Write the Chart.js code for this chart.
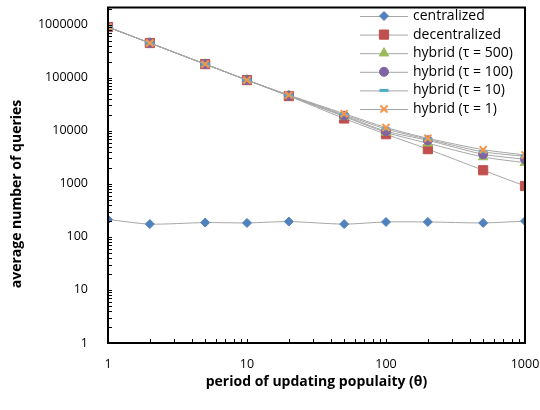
<!DOCTYPE html>
<html>
<head>
<meta charset="utf-8">
<script src="https://cdn.jsdelivr.net/npm/chart.js@4.4.1/dist/chart.umd.min.js"></script>
<style>
  html, body { margin: 0; padding: 0; background: #fff; }
  #wrap { width: 540px; height: 410px; }
</style>
</head>
<body>
<div id="wrap"><canvas id="c" width="540" height="410"></canvas></div>
<script>
// period of updating popularity (theta)
const periods = [1, 2, 5, 10, 20, 50, 100, 200, 500, 1000];

const centralized   = [213, 174, 186, 183, 194, 174, 191, 191, 183, 198];
const decentralized = [900000, 450000, 180000, 90000, 45000, 17000, 8600, 4500, 1800, 910];
const hybrid500     = [900000, 450000, 180000, 90000, 45500, 18500, 9300, 5800, 3200, 2500];
const hybrid100     = [900000, 450000, 180000, 90000, 46000, 19200, 9800, 6600, 3600, 2900];
const hybrid10      = [900000, 450000, 180000, 90000, 46500, 20000, 10800, 6900, 4000, 3300];
const hybrid1       = [900000, 450000, 180000, 90000, 47000, 21000, 11500, 7200, 4400, 3500];

const xTicks = [1, 10, 100, 1000];
const yTicks = [1, 10, 100, 1000, 10000, 100000, 1000000];

const FONT = '"Open Sans", "Noto Sans", sans-serif';
const LINE = '#a6a6a6';

function series(label, data, color, style, radius, bw, order) {
    return {
        label,
        data: data.map((v, i) => ({ x: periods[i], y: v })),
        borderColor: LINE,
        borderWidth: 1,
        tension: 0.25,
        pointStyle: style,
        pointRadius: radius,
        pointBackgroundColor: color,
        pointBorderColor: color,
        pointBorderWidth: bw,
        order,
    };
}

const datasets = [
    series('centralized', centralized, '#4f81bd', 'rectRot', 4.5, 1, 6),
    series('decentralized', decentralized, '#c0504d', 'rect', 6.5, 1, 5),
    series('hybrid (\u03c4 = 500)', hybrid500, '#9bbb59', 'triangle', 5.5, 1, 4),
    series('hybrid (\u03c4 = 100)', hybrid100, '#8064a2', 'circle', 4.5, 1, 3),
    series('hybrid (\u03c4 = 10)', hybrid10, '#4bacc6', 'line', 4.5, 3, 2),
    series('hybrid (\u03c4 = 1)', hybrid1, '#f79646', 'crossRot', 5, 2, 1),
];

// box border, minor tick marks, y title and the in-plot legend
const decor = {
    id: 'decor',
    afterDraw(chart) {
        const { ctx, chartArea: a, scales } = chart;
        ctx.save();
        ctx.strokeStyle = '#000';
        ctx.lineWidth = 1;
        ctx.beginPath();
        for (let d = 1; d <= 1000000; d *= 10) {
            for (let m = 1; m < 10; m++) {
                const v = d * m;
                if (v > scales.y.max) break;
                const py = Math.round(scales.y.getPixelForValue(v)) + 0.5;
                ctx.moveTo(a.left, py);
                ctx.lineTo(a.left + 4, py);
            }
        }
        for (let d = 1; d < 1000; d *= 10) {
            for (let m = 1; m < 10; m++) {
                const px = Math.round(scales.x.getPixelForValue(d * m)) + 0.5;
                ctx.moveTo(px, a.bottom);
                ctx.lineTo(px, a.bottom - 4);
            }
        }
        ctx.stroke();
        ctx.lineWidth = 2;
        ctx.strokeRect(a.left, a.top, a.right - a.left, a.bottom - a.top);

        // y axis title
        ctx.save();
        ctx.translate(17, 194);
        ctx.rotate(-Math.PI / 2);
        ctx.font = 'bold 14px ' + FONT;
        ctx.textAlign = 'center';
        ctx.textBaseline = 'middle';
        ctx.fillStyle = '#000';
        ctx.fillText('average number of queries', 0, 0);
        ctx.restore();

        // legend
        ctx.font = '14px ' + FONT;
        ctx.textBaseline = 'middle';
        datasets.forEach((ds, i) => {
            const y = 16 + i * 18.6;
            ctx.strokeStyle = LINE;
            ctx.lineWidth = 1;
            ctx.beginPath();
            ctx.moveTo(360, y + 0.5);
            ctx.lineTo(408, y + 0.5);
            ctx.stroke();
            ctx.fillStyle = ds.pointBackgroundColor;
            ctx.strokeStyle = ds.pointBorderColor;
            ctx.lineWidth = ds.pointBorderWidth;
            Chart.helpers.drawPoint(ctx, { pointStyle: ds.pointStyle, radius: ds.pointRadius, borderWidth: ds.pointBorderWidth, rotation: 0 }, 384, y);
            ctx.fillStyle = '#000';
            ctx.fillText(ds.label, 413, y);
        });
        ctx.restore();
    },
};

new Chart(document.getElementById('c'), {
    type: 'line',
    data: { datasets },
    plugins: [decor],
    options: {
        responsive: false,
        animation: false,
        devicePixelRatio: 1,
        layout: { padding: { top: 7, right: 15, left: 0, bottom: 0 } },
        plugins: { legend: { display: false }, tooltip: { enabled: false } },
        scales: {
            x: {
                type: 'logarithmic',
                min: 1,
                max: 1000,
                afterBuildTicks: (s) => { s.ticks = xTicks.map(v => ({ value: v })); },
                afterFit: (s) => { s.height = 67; s.paddingLeft = 0; s.paddingRight = 0; },
                grid: { display: false, drawTicks: false },
                border: { display: true, color: '#000', width: 2 },
                ticks: { color: '#000', padding: 14, maxRotation: 0, font: { family: FONT, size: 12.5 }, callback: (v) => String(v) },
                title: { display: true, text: 'period of updating populaity (\u03b8)', color: '#000', padding: { top: 4, bottom: 20 }, font: { family: FONT, size: 14, weight: 'bold' } },
            },
            y: {
                type: 'logarithmic',
                min: 1,
                max: 2100000,
                afterBuildTicks: (s) => { s.ticks = yTicks.map(v => ({ value: v })); },
                afterFit: (s) => { s.width = 108; s.paddingTop = 0; s.paddingBottom = 0; },
                grid: { display: false, drawTicks: false },
                border: { display: true, color: '#000', width: 2 },
                ticks: { color: '#000', padding: 20, font: { family: FONT, size: 12.5 }, callback: (v) => String(v) },
            },
        },
    },
});
</script>
</body>
</html>
